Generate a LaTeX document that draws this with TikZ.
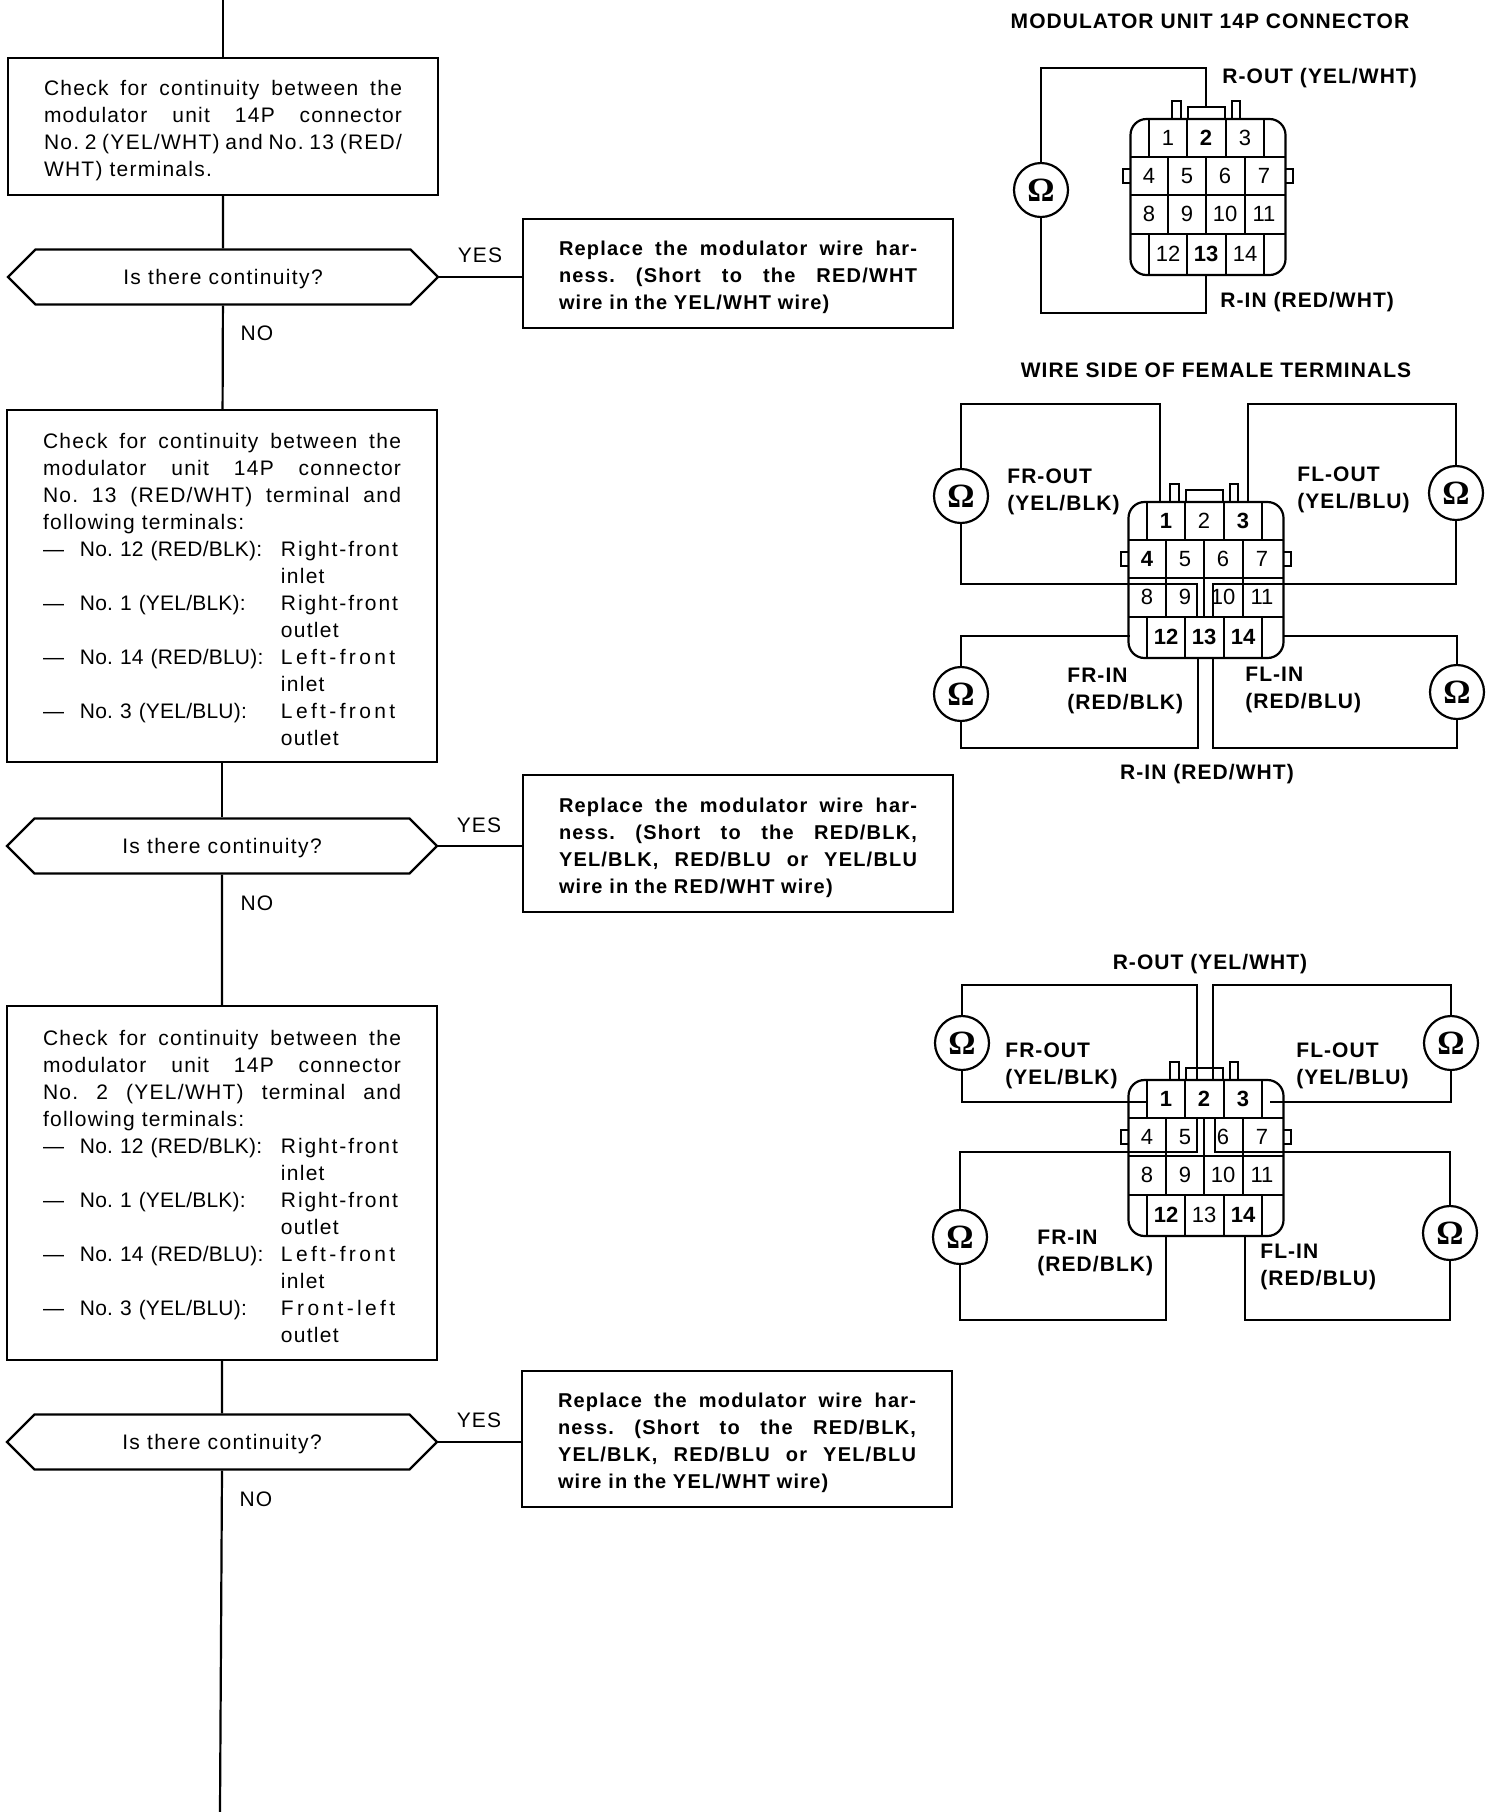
\documentclass[tikz,border=0pt]{standalone}
\usepackage{fontspec}
\setmainfont{Liberation Sans}
\newfontfamily\ohmfont{Liberation Serif}
\usetikzlibrary{shapes.misc,calc,positioning}

\newcommand{\jl}[1]{\makebox[179pt][s]{\spaceskip=0pt #1}}
\newcommand{\wide}[2]{{\addfontfeature{LetterSpace=#1}#2}}
\newcommand{\itm}[4]{\makebox[18.5pt][l]{#1}\makebox[100.5pt][l]{\addfontfeature{LetterSpace=1}#2}\makebox[57.5pt][l]{#3}\\\hspace*{119pt}#4}
\newcommand{\askq}{\raisebox{-3.7pt}{Is there continuity?}}

% body of the 14P connector: grid, tabs and numbers; #2 = terminals set in bold
\newcommand{\connterms}[2]{
    \foreach \b in {#2} {\expandafter\gdef\csname bold#1\b\endcsname{}}
    \begin{scope}[shift={(#1.center)}]
        \draw[conn] (-77.5,-40) -- (77.5,-40) (-77.5,-2) -- (77.5,-2) (-77.5,37) -- (77.5,37);
        \foreach \dx in {-59,-21,18,56} \draw[conn] (\dx,-78) -- (\dx,-40) (\dx,37) -- (\dx,78);
        \foreach \dx in {-40,-2,37} \draw[conn] (\dx,-40) -- (\dx,37);
        \draw[conn] (-36,-78) -- (-36,-96) -- (-27,-96) -- (-27,-78);
        \draw[conn] (24,-78) -- (24,-96) -- (32,-96) -- (32,-78);
        \draw[conn] (-20,-78) -- (-20,-90) -- (17,-90) -- (17,-78);
        \draw[conn] (-77.5,-28) -- (-85,-28) -- (-85,-14) -- (-77.5,-14);
        \draw[conn] (77.5,-28) -- (85,-28) -- (85,-14) -- (77.5,-14);
        \foreach \n/\dx/\dy in {1/-40/-59,2/-2/-59,3/37/-59,4/-59/-21,5/-21/-21,6/17/-21,7/56/-21,
                8/-59/17,9/-21/17,10/17/17,11/56/17,12/-40/57,13/-2/57,14/37/57}
            \node[termnum] (#1-\n) at (\dx,\dy) {\ifcsname bold#1\n\endcsname\bfseries\fi\n};
    \end{scope}
}

\tikzset{
    chkbox/.style={draw, line width=1.1pt, rectangle, minimum width=215pt, text width=179pt, inner xsep=18pt,
        inner ysep=0pt, align=left, execute at begin node={\rule{0pt}{11.5pt}},
        font=\fontsize{10.5}{13.5}\selectfont\frenchspacing\addfontfeature{LetterSpace=6}},
    fixbox/.style={chkbox, font=\fontsize{10}{13.5}\selectfont\bfseries\frenchspacing\addfontfeature{LetterSpace=6}},
    askbox/.style={draw, line width=1.1pt, chamfered rectangle, chamfered rectangle xsep=17.5pt,
        chamfered rectangle ysep=13.75pt, minimum width=215pt, minimum height=27.5pt, inner sep=0pt,
        text height=0pt, text depth=0pt, font=\fontsize{10.5}{13.5}\selectfont\addfontfeature{LetterSpace=6.5}},
    flow/.style={line width=1.1pt},
    ans/.style={inner sep=0pt, font=\fontsize{10.5}{13.5}\selectfont\addfontfeature{LetterSpace=5}},
    wire/.style={line width=1.1pt},
    conn/.style={line width=0.9pt},
    connbody/.style={draw, line width=1.1pt, rectangle, rounded corners=8pt, minimum width=77.5pt, minimum height=78pt, inner sep=0pt},
    termnum/.style={inner sep=0pt, font=\fontsize{11}{13}\selectfont},
    ohm/.style={draw, line width=1.1pt, circle, minimum size=27pt, inner sep=0pt, font=\fontsize{17}{17}\selectfont\ohmfont\bfseries},
    lab/.style={inner sep=0pt, align=left, font=\fontsize{10.5}{13.5}\selectfont\bfseries\addfontfeature{LetterSpace=5}}
}

\begin{document}
\begin{tikzpicture}[x=0.5pt,y=-0.5pt]
    \useasboundingbox (0,0) rectangle (1504,1812);

    % flow chart
    \coordinate (start) at (223,0);
    \coordinate (finish) at (220,1812);

    \node[chkbox, minimum height=68.5pt] (chkA) at (223,126.5) {\jl{Check for continuity between the}\\
        \jl{modulator unit 14P connector}\\ \jl{No. 2 (YEL/WHT) and No. 13 (RED/}\\ WHT) terminals.};
    \node[askbox] (askA) at (223,277) {\askq};
    \node[fixbox, minimum height=54.5pt] (fixA) at (738,273.5) {\jl{Replace the modulator wire har-}\\
        \jl{ness. (Short to the RED/WHT}\\ wire in the YEL/WHT wire)};
    \node[ans] (yesA) at (480,255) {YES};
    \node[ans] (noA) at (257,333) {NO};

    \node[chkbox, minimum height=176pt] (chkB) at (222,586) {\jl{Check for continuity between the}\\
        \jl{modulator unit 14P connector}\\ \jl{No. 13 (RED/WHT) terminal and}\\ following terminals:\\
        \itm{---}{No. 12 (RED/BLK):}{\wide{9}{Right-front}}{inlet}\\
        \itm{---}{No. 1 (YEL/BLK):}{\wide{9}{Right-front}}{outlet}\\
        \itm{---}{No. 14 (RED/BLU):}{\wide{16}{Left-front}}{inlet}\\
        \itm{---}{No. 3 (YEL/BLU):}{\wide{16}{Left-front}}{outlet}};
    \node[askbox] (askB) at (222,846) {\askq};
    \node[fixbox, minimum height=68.5pt] (fixB) at (738,843.5) {\jl{Replace the modulator wire har-}\\
        \jl{ness. (Short to the RED/BLK,}\\ \jl{YEL/BLK, RED/BLU or YEL/BLU}\\ wire in the RED/WHT wire)};
    \node[ans] (yesB) at (479,825) {YES};
    \node[ans] (noB) at (257,903) {NO};

    \node[chkbox, minimum height=177pt] (chkC) at (222,1183) {\jl{Check for continuity between the}\\
        \jl{modulator unit 14P connector}\\ \jl{No. 2 (YEL/WHT) terminal and}\\ following terminals:\\
        \itm{---}{No. 12 (RED/BLK):}{\wide{9}{Right-front}}{inlet}\\
        \itm{---}{No. 1 (YEL/BLK):}{\wide{9}{Right-front}}{outlet}\\
        \itm{---}{No. 14 (RED/BLU):}{\wide{16}{Left-front}}{inlet}\\
        \itm{---}{No. 3 (YEL/BLU):}{\wide{16}{Front-left}}{outlet}};
    \node[askbox] (askC) at (222,1442) {\askq};
    \node[fixbox, minimum height=68pt] (fixC) at (737,1439) {\jl{Replace the modulator wire har-}\\
        \jl{ness. (Short to the RED/BLK,}\\ \jl{YEL/BLK, RED/BLU or YEL/BLU}\\ wire in the YEL/WHT wire)};
    \node[ans] (yesC) at (479,1420) {YES};
    \node[ans] (noC) at (256,1499) {NO};

    \draw[flow] (start) -- (chkA.north);
    \draw[flow] (chkA) -- (askA);
    \draw[flow] (askA) -- (chkB);
    \draw[flow] (chkB) -- (askB);
    \draw[flow] (askB) -- (chkC);
    \draw[flow] (chkC) -- (askC);
    \draw[flow] (askC.south) -- (finish);
    \draw[flow] (askA.east) -- (askA.east -| fixA.west);
    \draw[flow] (askB.east) -- (askB.east -| fixB.west);
    \draw[flow] (askC.east) -- (askC.east -| fixC.west);

    % continuity check on R-OUT and R-IN
    \node[lab] (titleA) at (1210,21) {MODULATOR UNIT 14P CONNECTOR};
    \node[connbody] (connA) at (1208,197) {};
    \connterms{connA}{2,13}
    \node[ohm] (ohmA) at (1041,190) {Ω};
    \coordinate (aTop) at (1206,68);
    \coordinate (aOut) at ($(connA.center)+(-2,-90)$);
    \coordinate (aBot) at (1206,313);
    \coordinate (aIn) at (connA.south -| aBot);
    \draw[wire] (ohmA.north) |- (aTop) -- (aOut);
    \draw[wire] (ohmA.south) |- (aBot) -- (aIn);
    \node[lab, anchor=west] (routA) at (1222,78) {R-OUT (YEL/WHT)};
    \node[lab, anchor=west] (rinA) at (1220,302) {R-IN (RED/WHT)};

    % R-IN against the four wheels
    \node[lab] (titleB) at (1216,370) {WIRE SIDE OF FEMALE TERMINALS};
    \node[connbody] (connB) at (1206,580) {};
    \connterms{connB}{1,3,4,12,13,14}
    \node[ohm] (ohmBa) at (961,496) {Ω};
    \node[ohm] (ohmBb) at (1456,493) {Ω};
    \node[ohm] (ohmBc) at (961,694) {Ω};
    \node[ohm] (ohmBd) at (1457,692) {Ω};
    \coordinate (bTopL) at (1160,404);
    \coordinate (bTopR) at (1248,404);
    \coordinate (bMidL) at (1197,584);
    \coordinate (bMidR) at (1213,584);
    \coordinate (bLowL) at (1130,636);
    \coordinate (bLowR) at (1284,636);
    \coordinate (bBotL) at (1198,748);
    \coordinate (bBotR) at (1213,748);
    \draw[wire] (ohmBa.north) |- (bTopL) -- (bTopL |- connB.north);
    \draw[wire] (ohmBb.north) |- (bTopR) -- (bTopR |- connB.north);
    \draw[wire] (ohmBa.south) |- (bMidL) -- ++(0,33);
    \draw[wire] (ohmBb.south) |- (bMidR) -- ++(0,33);
    \draw[wire] (ohmBc.north) |- (bLowL);
    \draw[wire] (ohmBd.north) |- (bLowR);
    \draw[wire] (ohmBc.south) |- (bBotL) -- (bBotL |- connB.south);
    \draw[wire] (ohmBd.south) |- (bBotR) -- (bBotR |- connB.south);
    \node[lab, anchor=west] (frOutB) at (1007,492) {FR-OUT\\(YEL/BLK)};
    \node[lab, anchor=west] (flOutB) at (1297,490) {FL-OUT\\(YEL/BLU)};
    \node[lab, anchor=west] (frInB) at (1067,691) {FR-IN\\(RED/BLK)};
    \node[lab, anchor=west] (flInB) at (1245,690) {FL-IN\\(RED/BLU)};
    \node[lab] (rinB) at (1207,774) {R-IN (RED/WHT)};

    % R-OUT against the four wheels
    \node[connbody] (connC) at (1206,1158) {};
    \connterms{connC}{1,2,3,12,14}
    \node[ohm] (ohmCa) at (962,1043) {Ω};
    \node[ohm] (ohmCb) at (1451,1043) {Ω};
    \node[ohm] (ohmCc) at (960,1237) {Ω};
    \node[ohm] (ohmCd) at (1450,1233) {Ω};
    \coordinate (cTopL) at (1197,985);
    \coordinate (cTopR) at (1213,985);
    \coordinate (cUpL) at (1147,1102);
    \coordinate (cUpR) at (1270,1102);
    \coordinate (cMidL) at (1197,1152);
    \coordinate (cMidR) at (1215,1152);
    \coordinate (cBotL) at (1166,1320);
    \coordinate (cBotR) at (1245,1320);
    \draw[wire] (ohmCa.north) |- (cTopL) -- (cTopL |- connC.north);
    \draw[wire] (ohmCb.north) |- (cTopR) -- (cTopR |- connC.north);
    \draw[wire] (ohmCa.south) |- (cUpL);
    \draw[wire] (ohmCb.south) |- (cUpR);
    \draw[wire] (ohmCc.north) |- (cMidL) -- ++(0,-33);
    \draw[wire] (ohmCd.north) |- (cMidR) -- ++(0,-33);
    \draw[wire] (ohmCc.south) |- (cBotL) -- (cBotL |- connC.south);
    \draw[wire] (ohmCd.south) |- (cBotR) -- (cBotR |- connC.south);
    \node[lab] (routC) at (1210,964) {R-OUT (YEL/WHT)};
    \node[lab, anchor=west] (frOutC) at (1005,1066) {FR-OUT\\(YEL/BLK)};
    \node[lab, anchor=west] (flOutC) at (1296,1066) {FL-OUT\\(YEL/BLU)};
    \node[lab, anchor=west] (frInC) at (1037,1253) {FR-IN\\(RED/BLK)};
    \node[lab, anchor=west] (flInC) at (1260,1267) {FL-IN\\(RED/BLU)};
\end{tikzpicture}
\end{document}
